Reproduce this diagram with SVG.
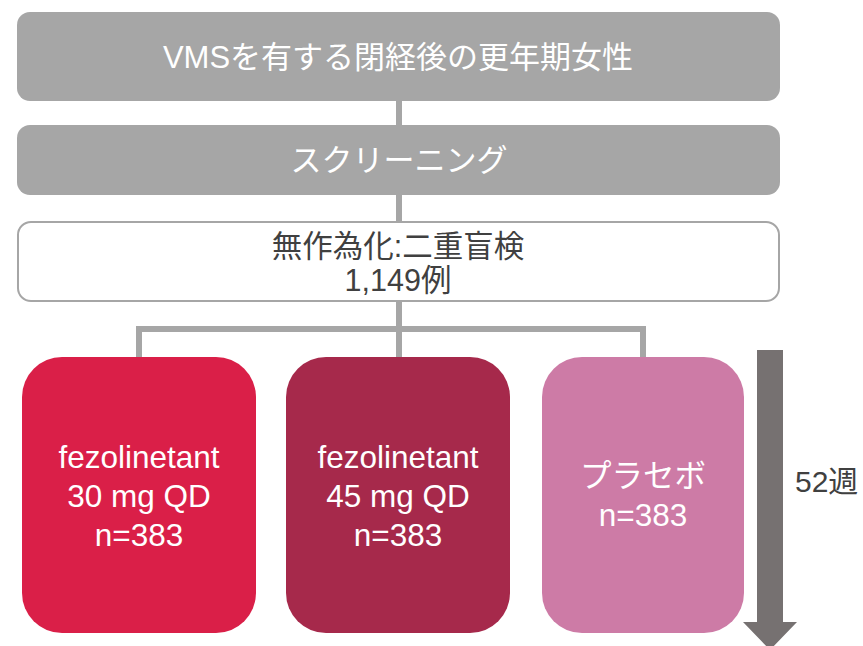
<svg xmlns="http://www.w3.org/2000/svg" width="863" height="646" viewBox="0 0 863 646">
<style>
text{font-family:"Liberation Sans","Noto Sans CJK JP",sans-serif;text-anchor:middle}
.w{fill:#ffffff;font-size:31px}
.d{fill:#404040;font-size:30.5px}
.c{fill:#ffffff;font-size:31.5px}
.conn{stroke:#a6a6a6;stroke-width:6;fill:none}
</style>
<rect width="863" height="646" fill="#ffffff"/>
<g id="connectors">
<line class="conn" x1="399" y1="100" x2="399" y2="126"/>
<line class="conn" x1="399" y1="194" x2="399" y2="222"/>
<polyline class="conn" points="399,301 399,329"/>
<polyline class="conn" points="139,358 139,329 643,329 643,358"/>
<line class="conn" x1="399" y1="329" x2="399" y2="358"/>
</g>
<g id="node-population">
<rect x="17" y="12" width="763" height="89" rx="13" fill="#a6a6a6"/>
<text class="w" x="398" y="68">VMSを有する閉経後の更年期女性</text>
</g>
<g id="node-screening">
<rect x="17" y="125" width="763" height="70" rx="13" fill="#a6a6a6"/>
<text class="w" x="399" y="171">スクリーニング</text>
</g>
<g id="node-random">
<rect x="18" y="222" width="761" height="79" rx="13" fill="#ffffff" stroke="#a6a6a6" stroke-width="2"/>
<text class="d" x="398" y="257">無作為化:二重盲検</text>
<text class="d" x="398" y="291">1,149例</text>
</g>
<g id="node-30mg">
<rect x="22" y="357" width="234" height="276" rx="40" fill="#da1f48"/>
<text class="c" x="139" y="468">fezolinetant</text>
<text class="c" x="139" y="507">30 mg QD</text>
<text class="c" x="139" y="546">n=383</text>
</g>
<g id="node-45mg">
<rect x="286" y="357" width="224" height="276" rx="40" fill="#a6294b"/>
<text class="c" x="398" y="468">fezolinetant</text>
<text class="c" x="398" y="507">45 mg QD</text>
<text class="c" x="398" y="546">n=383</text>
</g>
<g id="node-placebo">
<rect x="542" y="357" width="202" height="276" rx="40" fill="#cd7ba6"/>
<text class="c" x="643" y="487">プラセボ</text>
<text class="c" x="643" y="526">n=383</text>
</g>
<g id="duration">
<polygon points="757,350 783,350 783,622 797,622 770,650 743,622 757,622" fill="#767171"/>
<text x="795" y="492" style="text-anchor:start;fill:#404040;font-size:30px">52週</text>
</g>
</svg>
